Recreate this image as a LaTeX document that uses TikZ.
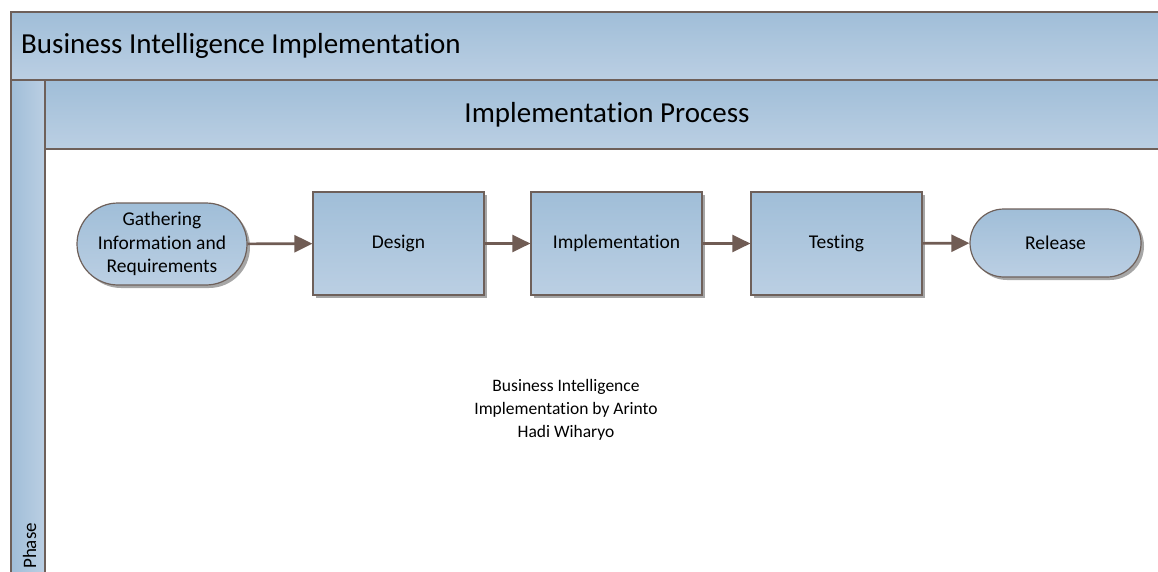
\documentclass[tikz,border=0pt]{standalone}
\usepackage{fontspec}
\setmainfont[Ligatures=NoCommon]{Carlito}
\usetikzlibrary{shapes.misc,arrows.meta,shadows}

\definecolor{lineedge}{RGB}{110,96,90}
\definecolor{shadeTop}{RGB}{160,190,216}
\definecolor{shadeBot}{RGB}{187,207,227}
\definecolor{flowarrow}{RGB}{112,92,84}

\tikzset{
  band/.style={draw=lineedge, line width=2pt, top color=shadeTop, bottom color=shadeBot},
  sideband/.style={draw=lineedge, line width=2pt, left color=shadeTop, right color=shadeBot},
  boxshade/.style={draw=lineedge, line width=1.2pt, top color=shadeTop, bottom color=shadeBot,
    drop shadow={shadow xshift=3pt, shadow yshift=-3pt, fill=black, opacity=0.35},
    inner sep=0pt, align=center, font=\fontsize{19.5}{23.5}\selectfont},
  stepbox/.style={boxshade, rectangle, minimum width=171pt, minimum height=103pt},
  terminal/.style={boxshade, rounded rectangle, rounded rectangle arc length=180},
  flow/.style={draw=flowarrow, line width=2.6pt, -{Triangle[length=18pt,width=17pt]}},
}

\begin{document}
\begin{tikzpicture}[x=1pt,y=-1pt]
\useasboundingbox (0,0) rectangle (1158,572);
\begin{scope}
\clip (0,0) rectangle (1158,572);
% pool title band
\draw[band] (11,12) rectangle (1175,80);
% lane header band
\draw[band] (45,80) rectangle (1175,149);
% phase strip on the left
\draw[sideband] (11,80) rectangle (45,590);
\end{scope}

\node[anchor=west, inner sep=0pt, font=\fontsize{29}{34}\selectfont] (pooltitle) at (21,46) {Business Intelligence Implementation};
\node[inner sep=0pt, font=\fontsize{29}{34}\selectfont] (lanetitle) at (607,115) {Implementation Process};
\node[rotate=90, anchor=base west, inner sep=0pt, font=\fontsize{19}{23}\selectfont] (phase) at (36,569) {Phase};

% process steps
\node[terminal, minimum width=170pt, minimum height=82pt] (gather) at (162,244)
  {Gathering\\Information and\\Requirements};
\node[stepbox] (design) at (398.5,243.5) {Design};
\node[stepbox] (impl) at (616.5,243.5) {Implementation};
\node[stepbox] (test) at (836.5,243.5) {Testing};
\node[terminal, minimum width=171pt, minimum height=68pt] (release) at (1055.5,243) {Release};

% connectors
\draw[flow] (gather) -- (design);
\draw[flow] (design) -- (impl);
\draw[flow] (impl) -- (test);
\draw[flow] (test) -- (release);

% caption
\node[align=center, inner sep=0pt, font=\fontsize{17.5}{23}\selectfont] (caption) at (566,410)
  {Business Intelligence\\Implementation by Arinto\\Hadi Wiharyo};
\end{tikzpicture}
\end{document}
